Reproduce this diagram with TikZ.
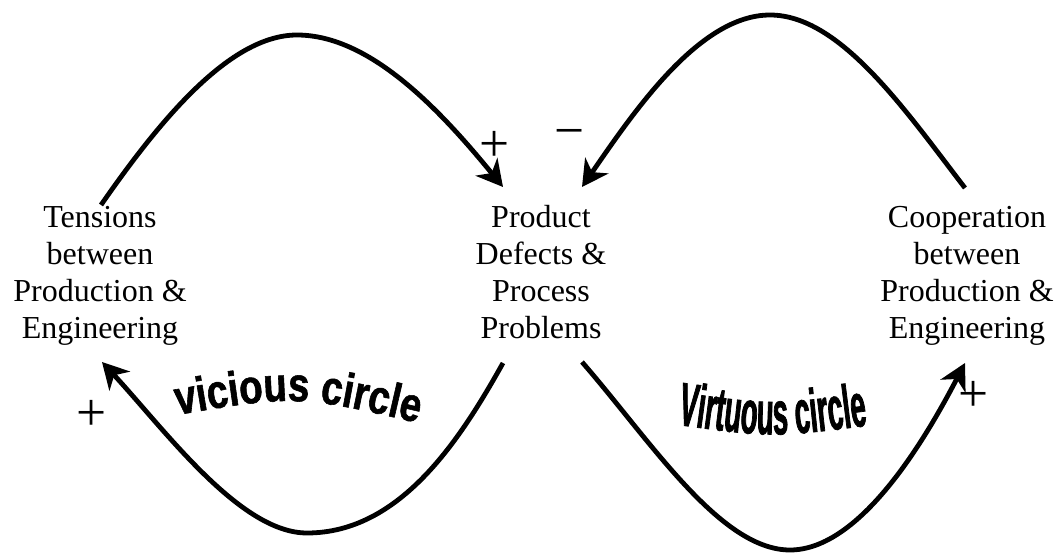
\documentclass[tikz,border=0pt]{standalone}
\usepackage{fontspec}
\setmainfont{Liberation Serif}
\newfontfamily\vicfont[FakeStretch=0.8,FakeBold=1.2]{Liberation Sans Bold}
\newfontfamily\virfont[FakeStretch=0.45,FakeBold=1.2]{Liberation Sans Bold}
\usetikzlibrary{arrows.meta,decorations.text}
\tikzset{
  concept/.style={align=center, inner sep=0pt, font=\fontsize{24pt}{27.75pt}\selectfont},
  sign/.style={inner sep=0pt, font=\fontsize{40pt}{42pt}\selectfont},
  link/.style={line width=3.6pt, -{Stealth[length=19.5pt, width=21pt, inset=6pt]}}
}
\begin{document}
\begin{tikzpicture}[x=0.75pt, y=0.75pt]
\useasboundingbox (0,0) rectangle (1063,554);
% concept nodes
\node[concept] (T) at (100,278) {Tensions\\between\\Production \&\\Engineering};
\node[concept] (P) at (541,281.5) {Product\\Defects \&\\Process\\Problems};
\node[concept] (C) at (967,278) {Cooperation\\between\\Production \&\\Engineering};
% connector end points
\coordinate (Tt) at (101,349);
\coordinate (Tb) at (102,192);
\coordinate (Ptl) at (503,367);
\coordinate (Ptr) at (582,367);
\coordinate (Pbl) at (503,191);
\coordinate (Pbr) at (582,192);
\coordinate (Ct) at (965,366);
\coordinate (Cb) at (965,191);
% loops
\draw[link] (Tt) .. controls (160,434) and (230,519) .. (297,519)
               .. controls (370,519) and (440,444) .. (Ptl);
\draw[link] (Ct) .. controls (905,444) and (840,539) .. (770,539)
               .. controls (700,539) and (635,444) .. (Ptr);
\draw[link] (Pbl) .. controls (460,114) and (400,21) .. (307,21)
               .. controls (240,21) and (165,124) .. (Tb);
\draw[link] (Pbr) .. controls (650,114) and (720,4) .. (790,4)
               .. controls (860,4) and (925,114) .. (Cb);
% signs
\node[sign] (s1) at (495,408) {+};
\node[sign] (s2) at (570,415) {−};
\node[sign] (s3) at (92,139) {+};
\node[sign] (s4) at (974,158) {+};
% curved labels
\path[decorate, decoration={text along path, text align=center,
  text={|\vicfont\fontsize{36pt}{40pt}\selectfont|vicious circle}}]
  (160,136) .. controls (296.5,160) .. (435,127);
\path[decorate, decoration={text along path, text align=center,
  text={|\virfont\fontsize{46pt}{50pt}\selectfont|Virtuous circle}}]
  (665,131) .. controls (771.5,116) .. (880,130);
\end{tikzpicture}
\end{document}
